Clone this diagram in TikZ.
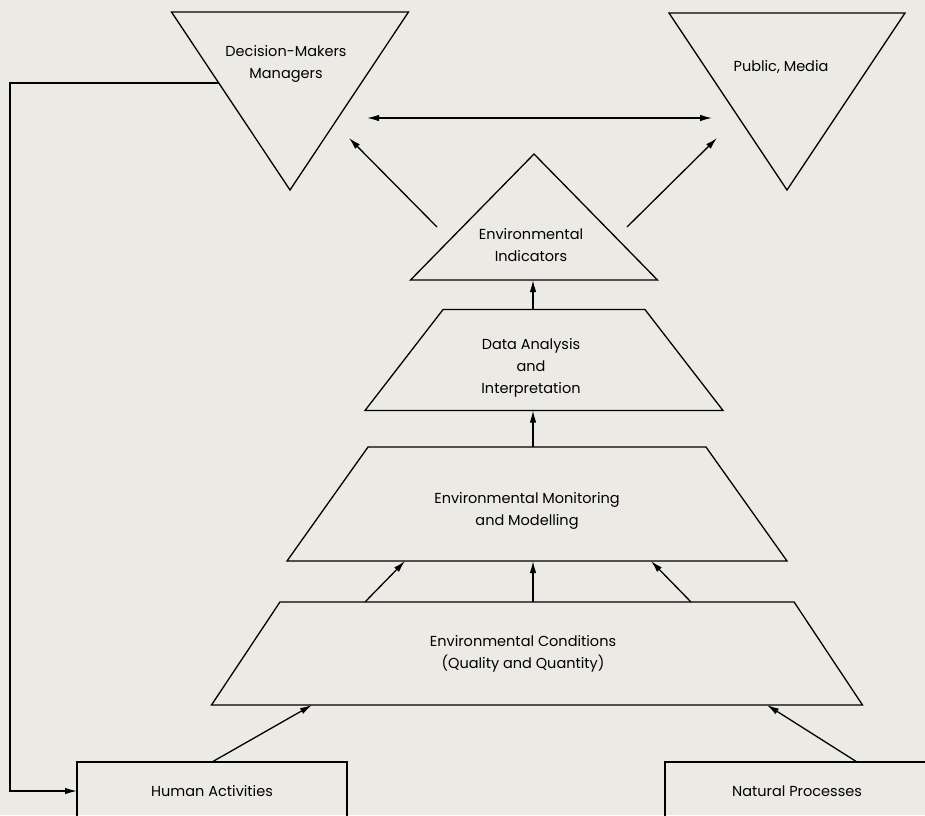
\documentclass[tikz,border=0pt]{standalone}
\usepackage{fontspec}
\setmainfont{Poppins}
\usetikzlibrary{shapes.geometric,arrows.meta}

\begin{document}
\begin{tikzpicture}[x=1pt,y=-1pt,line width=1.3pt,>={Latex[length=12pt,width=6.5pt]},
  every node/.style={font=\fontsize{14.5}{22}\selectfont,align=center,inner sep=0pt,outer sep=0pt},
  stage/.style={shape=trapezium,draw,trapezium stretches body},
  tri/.style={shape=isosceles triangle,draw,isosceles triangle stretches},
  source/.style={shape=rectangle,draw,minimum height=58pt}]
\definecolor{paper}{RGB}{236,234,229}
\fill[paper] (0,0) rectangle (925,815);
\useasboundingbox (0,0) rectangle (925,815);
\coordinate (axis) at (533,0);
\coordinate (fbx) at (10,0);

\node[tri,shape border rotate=270,minimum width=237pt,minimum height=178pt,anchor=apex] (dm) at (290,190) {};
\node (dmtext) at (286,64) {Decision-Makers\\Managers};
\node[tri,shape border rotate=270,minimum width=236pt,minimum height=177pt,anchor=apex] (pm) at (787,190) {};
\node (pmtext) at (781,67) {Public, Media};
\node[tri,shape border rotate=90,minimum width=247pt,minimum height=126pt,anchor=apex] (ei) at (534,154) {};
\node (eitext) at (531,245) {Environmental\\Indicators};

\node[stage,trapezium angle=52.3,minimum width=358pt,minimum height=101pt] (dana) at (544,360) {\rule{0pt}{101pt}};
\node (danatext) at (531,368) {Data Analysis\\and\\Interpretation};
\node[stage,trapezium angle=54.6,minimum width=500pt,minimum height=114pt] (em) at (537,504) {\rule{0pt}{114pt}};
\node (emtext) at (527,511) {Environmental Monitoring\\and Modelling};
\node[stage,trapezium angle=56.4,minimum width=651pt,minimum height=103pt] (ec) at (537,653.5) {\rule{0pt}{103pt}};
\node (ectext) at (523,654) {Environmental Conditions\\(Quality and Quantity)};

\node[source,minimum width=270pt] (hum) at (212,791) {Human Activities};
\node[source,minimum width=264pt] (nat) at (797,791) {Natural Processes};

\draw[->] (hum.north) -- ([xshift=-225pt]ec.south);
\draw[->] ([xshift=60pt]nat.north) -- ([xshift=230pt]ec.south);
\draw[->] ([xshift=-172pt]ec.north) -- ([xshift=-132pt]em.south);
\draw[->] (axis |- ec.north) -- (axis |- em.south);
\draw[->] ([xshift=154pt]ec.north) -- ([xshift=114pt]em.south);
\draw[->] (axis |- em.north) -- (axis |- dana.south);
\draw[->] (axis |- dana.north) -- (axis |- ei.lower side);
\draw[->] ([xshift=-97pt,yshift=-73pt]ei.apex) -- ([xshift=59pt,yshift=52pt]dm.apex);
\draw[->] ([xshift=93pt,yshift=-73pt]ei.apex) -- ([xshift=-70pt,yshift=52pt]pm.apex);
\draw[<->] ([xshift=77pt,yshift=72pt]dm.apex) -- ([xshift=-75pt,yshift=72pt]pm.apex);
\draw[->] ([xshift=-71pt,yshift=107pt]dm.apex) -| (fbx |- hum.west) -- (hum.west);
\end{tikzpicture}
\end{document}
